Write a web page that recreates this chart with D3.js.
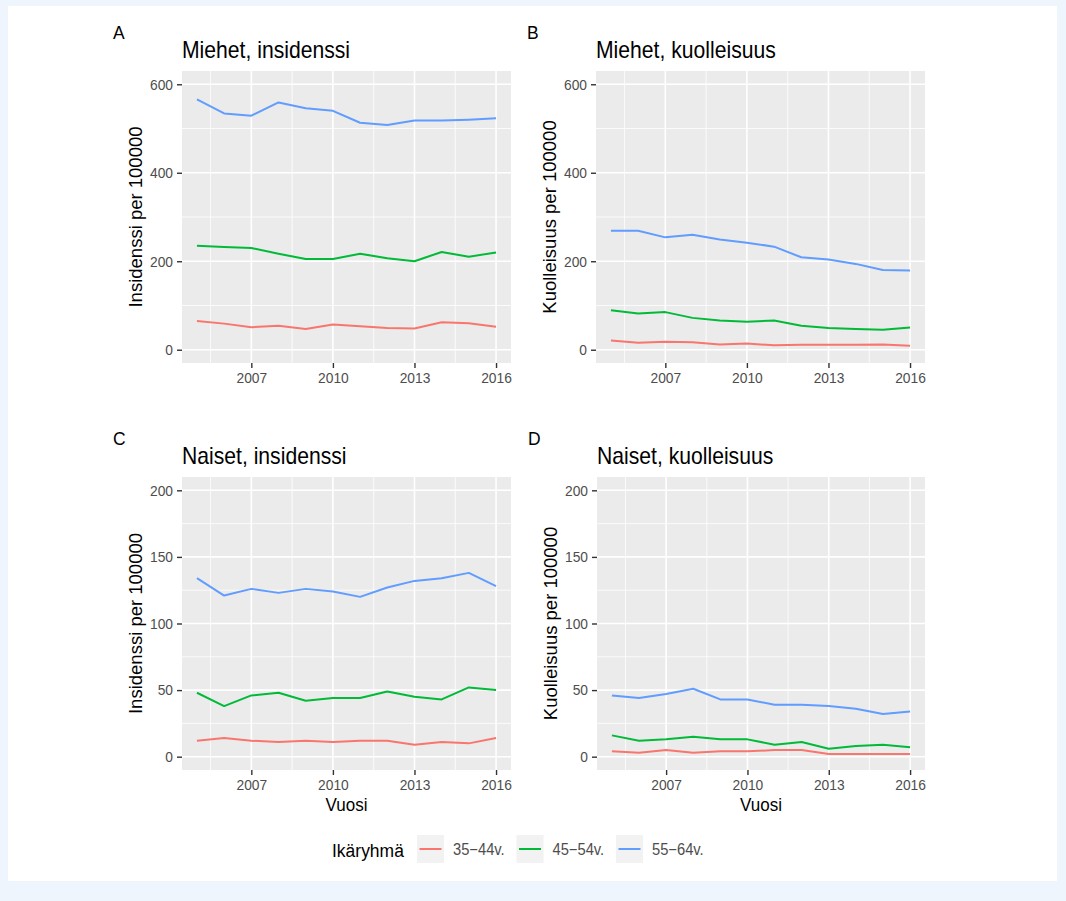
<!DOCTYPE html>
<html>
<head>
<meta charset="utf-8">
<script src="https://cdn.jsdelivr.net/npm/d3@7"></script>
<style>
  html, body { margin: 0; padding: 0; background: #eef5fd; }
  svg { display: block; }
  text { font-family: "Liberation Sans", Arial, sans-serif; }
</style>
</head>
<body>
<div id="chart"></div>
<script>
// vuodet ja ikäryhmät
var years = [2005, 2006, 2007, 2008, 2009, 2010, 2011, 2012, 2013, 2014, 2015, 2016];
var ageGroups = ['35\u221244v.', '45\u221254v.', '55\u221264v.'];
var xTicks = [2007, 2010, 2013, 2016];
var yTicksMen = [0, 200, 400, 600];
var yTicksWomen = [0, 50, 100, 150, 200];

// A: miehet, insidenssi
var menInc35 = [65, 59, 51, 54, 47, 57, 53, 49, 48, 62, 60, 52];
var menInc45 = [235, 232, 230, 217, 205, 205, 217, 207, 200, 221, 210, 220];
var menInc55 = [566, 534, 529, 559, 546, 540, 513, 508, 518, 518, 520, 523];
// B: miehet, kuolleisuus
var menMort35 = [21, 16, 18, 17, 12, 14, 10, 11, 11, 11, 12, 9];
var menMort45 = [89, 82, 85, 72, 66, 63, 66, 54, 49, 47, 45, 50];
var menMort55 = [269, 269, 254, 260, 249, 242, 233, 209, 204, 194, 180, 179];
// C: naiset, insidenssi
var womenInc35 = [12, 14, 12, 11, 12, 11, 12, 12, 9, 11, 10, 14];
var womenInc45 = [48, 38, 46, 48, 42, 44, 44, 49, 45, 43, 52, 50];
var womenInc55 = [134, 121, 126, 123, 126, 124, 120, 127, 132, 134, 138, 128];
// D: naiset, kuolleisuus
var womenMort35 = [4, 3, 5, 3, 4, 4, 5, 5, 2, 2, 2, 2];
var womenMort45 = [16, 12, 13, 15, 13, 13, 9, 11, 6, 8, 9, 7];
var womenMort55 = [46, 44, 47, 51, 43, 43, 39, 39, 38, 36, 32, 34];

var color = d3.scaleOrdinal().domain(ageGroups).range(['#F8766D', '#00BA38', '#619CFF']);
var SQ = 0.92; // kuvan vaakasuora puristus

var width = 1066, height = 901;

var panels = [
  {letter: 'A', title: 'Miehet, insidenssi', ylab: 'Insidenssi per 100000', yTicks: yTicksMen,
   series: [menInc35, menInc45, menInc55], x0: 182, x1: 511, y0: 71, y1: 363, xlab: false},
  {letter: 'B', title: 'Miehet, kuolleisuus', ylab: 'Kuolleisuus per 100000', yTicks: yTicksMen,
   series: [menMort35, menMort45, menMort55], x0: 596, x1: 925, y0: 71, y1: 363, xlab: false},
  {letter: 'C', title: 'Naiset, insidenssi', ylab: 'Insidenssi per 100000', yTicks: yTicksWomen,
   series: [womenInc35, womenInc45, womenInc55], x0: 182, x1: 511, y0: 477, y1: 770, xlab: true},
  {letter: 'D', title: 'Naiset, kuolleisuus', ylab: 'Kuolleisuus per 100000', yTicks: yTicksWomen,
   series: [womenMort35, womenMort45, womenMort55], x0: 597, x1: 925, y0: 477, y1: 770, xlab: true}
];

var svg = d3.select('#chart').append('svg')
  .attr('width', width)
  .attr('height', height);

// valkoinen kortti
svg.append('rect')
  .attr('x', 8).attr('y', 6)
  .attr('width', 1049).attr('height', 875)
  .attr('fill', '#ffffff');

function squeeze(sel) {
  sel.each(function() {
    var t = d3.select(this);
    var x = +t.attr('x') || 0;
    t.attr('x', x / SQ)
     .attr('transform', ((t.attr('transform') || '') + ' scale(' + SQ + ',1)').trim());
  });
}

panels.forEach(function(p) {
  var yMax = d3.max(p.yTicks);
  var xPad = (years[years.length - 1] - years[0]) * 0.05;
  var yPad = yMax * 0.05;

  var x = d3.scaleLinear()
    .domain([years[0] - xPad, years[years.length - 1] + xPad])
    .range([p.x0, p.x1]);
  var y = d3.scaleLinear()
    .domain([-yPad, yMax + yPad])
    .range([p.y1, p.y0]);

  var g = svg.append('g');

  // paneelin tausta
  g.append('rect')
    .attr('x', p.x0).attr('y', p.y0)
    .attr('width', p.x1 - p.x0).attr('height', p.y1 - p.y0)
    .attr('fill', '#ebebeb');

  // apuviivat (minor)
  var xStep = xTicks[1] - xTicks[0];
  var xMinor = d3.range(xTicks[0] - xStep, xTicks[xTicks.length - 1] + xStep, xStep)
    .map(function(v) { return v + xStep / 2; })
    .filter(function(v) { return v > x.domain()[0] && v < x.domain()[1]; });
  var yStep = p.yTicks[1] - p.yTicks[0];
  var yMinor = d3.range(p.yTicks[0] - yStep, yMax + yStep, yStep)
    .map(function(v) { return v + yStep / 2; })
    .filter(function(v) { return v > y.domain()[0] && v < y.domain()[1]; });

  g.selectAll('.xminor').data(xMinor).enter().append('line')
    .attr('x1', function(d) { return x(d); }).attr('x2', function(d) { return x(d); })
    .attr('y1', p.y0).attr('y2', p.y1)
    .attr('stroke', '#ffffff').attr('stroke-width', 0.8);
  g.selectAll('.yminor').data(yMinor).enter().append('line')
    .attr('y1', function(d) { return y(d); }).attr('y2', function(d) { return y(d); })
    .attr('x1', p.x0).attr('x2', p.x1)
    .attr('stroke', '#ffffff').attr('stroke-width', 0.8);

  // pääviivat
  g.selectAll('.xmajor').data(xTicks).enter().append('line')
    .attr('x1', function(d) { return x(d); }).attr('x2', function(d) { return x(d); })
    .attr('y1', p.y0).attr('y2', p.y1)
    .attr('stroke', '#ffffff').attr('stroke-width', 1.6);
  g.selectAll('.ymajor').data(p.yTicks).enter().append('line')
    .attr('y1', function(d) { return y(d); }).attr('y2', function(d) { return y(d); })
    .attr('x1', p.x0).attr('x2', p.x1)
    .attr('stroke', '#ffffff').attr('stroke-width', 1.6);

  // käyrät
  var line = d3.line()
    .x(function(d, i) { return x(years[i]); })
    .y(function(d) { return y(d); });
  p.series.forEach(function(s, i) {
    g.append('path')
      .datum(s)
      .attr('d', line)
      .attr('fill', 'none')
      .attr('stroke', color(ageGroups[i]))
      .attr('stroke-width', 2)
      .attr('stroke-linejoin', 'round');
  });

  // akselit
  var xAxis = g.append('g')
    .attr('transform', 'translate(0,' + p.y1 + ')')
    .call(d3.axisBottom(x).tickValues(xTicks).tickFormat(d3.format('d')).tickSize(5).tickPadding(4));
  var yAxis = g.append('g')
    .attr('transform', 'translate(' + p.x0 + ',0)')
    .call(d3.axisLeft(y).tickValues(p.yTicks).tickSize(5).tickPadding(4));
  [xAxis, yAxis].forEach(function(a) {
    a.select('.domain').remove();
    a.selectAll('.tick line').attr('stroke', '#333333').attr('stroke-width', 1.4);
    a.selectAll('.tick text')
      .attr('fill', '#4d4d4d')
      .style('font-size', '15px')
      .style('font-family', '"Liberation Sans", Arial, sans-serif');
  });
  squeeze(xAxis.selectAll('.tick text'));
  squeeze(yAxis.selectAll('.tick text'));

  // otsikot
  var letter = g.append('text')
    .attr('transform', 'translate(' + (p.x0 - 69) + ',' + (p.y0 - 32) + ')')
    .attr('font-size', '19px').attr('fill', '#000')
    .text(p.letter);
  squeeze(letter);

  var title = g.append('text')
    .attr('transform', 'translate(' + p.x0 + ',' + (p.y0 - 13) + ')')
    .attr('font-size', '23px').attr('fill', '#000')
    .text(p.title);
  squeeze(title);

  g.append('text')
    .attr('transform', 'translate(' + (p.x0 - 40) + ',' + ((p.y0 + p.y1) / 2) + ') rotate(-90)')
    .attr('text-anchor', 'middle')
    .attr('font-size', '18.5px').attr('fill', '#000')
    .text(p.ylab);

  if (p.xlab) {
    var xl = g.append('text')
      .attr('transform', 'translate(' + ((p.x0 + p.x1) / 2) + ',' + (p.y1 + 41) + ')')
      .attr('text-anchor', 'middle')
      .attr('font-size', '18.5px').attr('fill', '#000')
      .text('Vuosi');
    squeeze(xl);
  }
});

// selite
var legend = svg.append('g').attr('transform', 'translate(332,835)');
var lt = legend.append('text')
  .attr('transform', 'translate(0,22)')
  .attr('font-size', '19px').attr('fill', '#000')
  .text('Ikäryhmä');
squeeze(lt);

var item = legend.selectAll('.item')
  .data(ageGroups)
  .enter().append('g')
  .attr('class', 'item')
  .attr('transform', function(d, i) { return 'translate(' + (85 + i * 99.5) + ',0)'; });
item.append('rect')
  .attr('width', 27).attr('height', 28)
  .attr('fill', '#f2f2f2');
item.append('line')
  .attr('x1', 2.5).attr('x2', 24.5)
  .attr('y1', 14).attr('y2', 14)
  .attr('stroke', function(d) { return color(d); })
  .attr('stroke-width', 2);
var lbl = item.append('text')
  .attr('transform', 'translate(36,20)')
  .attr('font-size', '16px').attr('fill', '#4d4d4d')
  .text(function(d) { return d; });
squeeze(lbl);
</script>
</body>
</html>
